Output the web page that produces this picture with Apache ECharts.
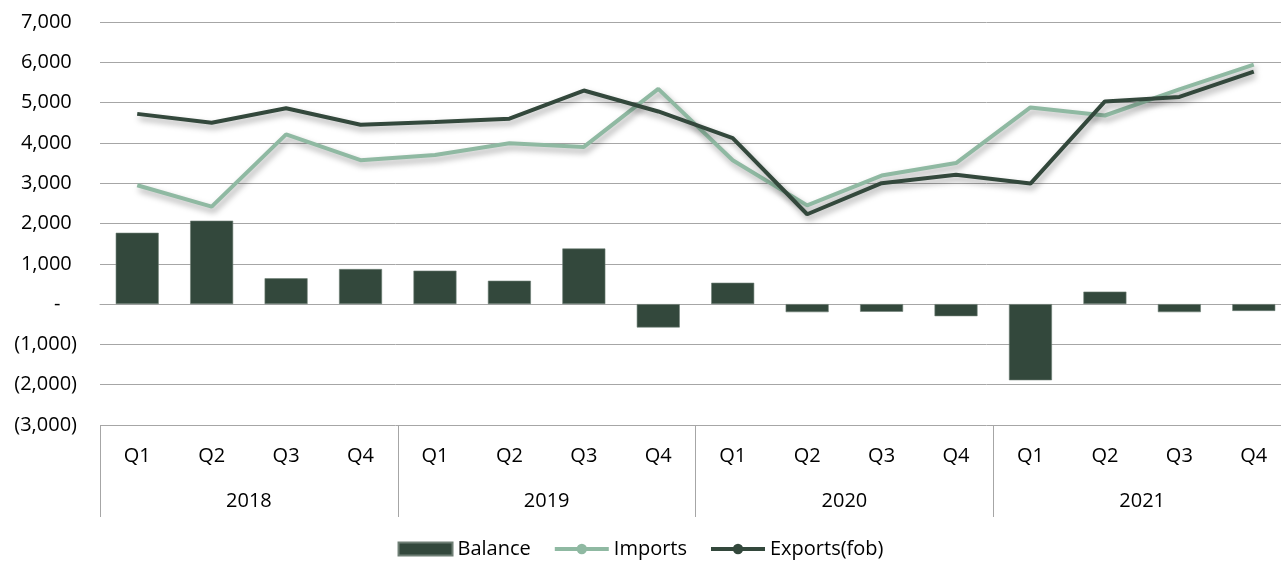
<!DOCTYPE html>
<html>
<head>
<meta charset="utf-8">
<script src="https://cdn.jsdelivr.net/npm/echarts@6/dist/echarts.min.js"></script>
<style>
html, body { margin: 0; padding: 0; background: #fff; }
#main { width: 1281px; height: 566px; }
</style>
</head>
<body>
<div id="main"></div>
<script>
// 分类
var quarters = ['Q1', 'Q2', 'Q3', 'Q4', 'Q1', 'Q2', 'Q3', 'Q4', 'Q1', 'Q2', 'Q3', 'Q4', 'Q1', 'Q2', 'Q3', 'Q4'];
var years = ['2018', '2019', '2020', '2021'];

// 数据
var balance = [1770, 2070, 640, 870, 830, 580, 1380, -580, 530, -200, -190, -300, -1890, 310, -200, -170];
var imports = [2950, 2420, 4210, 3570, 3700, 3990, 3900, 5340, 3570, 2450, 3190, 3500, 4880, 4680, 5330, 5940];
var exportsFob = [4720, 4500, 4860, 4450, 4520, 4600, 5300, 4780, 4120, 2230, 3000, 3210, 2990, 5030, 5140, 5770];

var dark = '#33483c',
	light = '#8fb9a2',
	gridGray = '#a6a6a6',
	font = 'Open Sans',
	size = 20;

// 会计格式：正数 7,000 负数 (1,000) 零 -
function acct(v){
	if (v === 0) return '-\u2007 ';
	var s = Math.abs(v).toLocaleString('en-US');
	return v < 0 ? '(' + s + ')' : s + ' ';
}

var lineShadow = {
	shadowColor: 'rgba(0,0,0,0.35)',
	shadowBlur: 6,
	shadowOffsetX: 2,
	shadowOffsetY: 4
};

var myChart = echarts.init(document.getElementById('main'));

var option = {
	animation: false,
	textStyle: { fontFamily: font, fontSize: size, color: '#000' },
	// 右侧超出画布约10px，和原图一样被裁掉
	grid: { left: 100, right: -10, top: 22, bottom: 141, containLabel: false, outerBoundsMode: 'none' },
	legend: {
		bottom: 2,
		left: 'center',
		itemWidth: 54,
		itemHeight: 13,
		itemGap: 22,
		textStyle: { fontFamily: font, fontSize: size, color: '#000' },
		data: [
			{ name: 'Balance', icon: 'rect' },
			{ name: 'Imports', lineStyle: { width: 4, shadowBlur: 0, shadowOffsetX: 0, shadowOffsetY: 0 } },
			{ name: 'Exports(fob)', lineStyle: { width: 4, shadowBlur: 0, shadowOffsetX: 0, shadowOffsetY: 0 } }
		]
	},
	xAxis: [{
		type: 'category',
		data: quarters,
		position: 'bottom',
		axisLine: { show: true, lineStyle: { color: gridGray, width: 1 } },
		axisTick: { show: false },
		axisLabel: { margin: 21, fontFamily: font, fontSize: size, color: '#000' }
	}, {
		type: 'category',
		data: years,
		position: 'bottom',
		offset: 92,
		axisLine: { show: false },
		axisTick: { show: true, inside: true, length: 92, lineStyle: { color: gridGray, width: 1 } },
		axisLabel: { inside: true, margin: 6, fontFamily: font, fontSize: size, color: '#000' }
	}],
	yAxis: {
		type: 'value',
		min: -3000,
		max: 7000,
		interval: 1000,
		axisLine: { show: false },
		axisTick: { show: false },
		splitLine: { lineStyle: { color: gridGray, width: 1 } },
		axisLabel: {
			margin: 23,
			fontFamily: font,
			fontSize: size,
			color: '#000',
			formatter: acct
		}
	},
	series: [{
		name: 'Balance',
		type: 'bar',
		data: balance,
		barWidth: 43,
		itemStyle: { color: dark, borderColor: '#6f7f75', borderWidth: 0.6 }
	}, {
		name: 'Imports',
		type: 'line',
		data: imports,
		symbol: 'circle',
		symbolSize: 10,
		showSymbol: false,
		itemStyle: { color: light },
		lineStyle: Object.assign({ color: light, width: 4 }, lineShadow)
	}, {
		name: 'Exports(fob)',
		type: 'line',
		data: exportsFob,
		symbol: 'circle',
		symbolSize: 10,
		showSymbol: false,
		itemStyle: { color: dark },
		lineStyle: Object.assign({ color: dark, width: 4 }, lineShadow)
	}]
};

myChart.setOption(option);
</script>
</body>
</html>
